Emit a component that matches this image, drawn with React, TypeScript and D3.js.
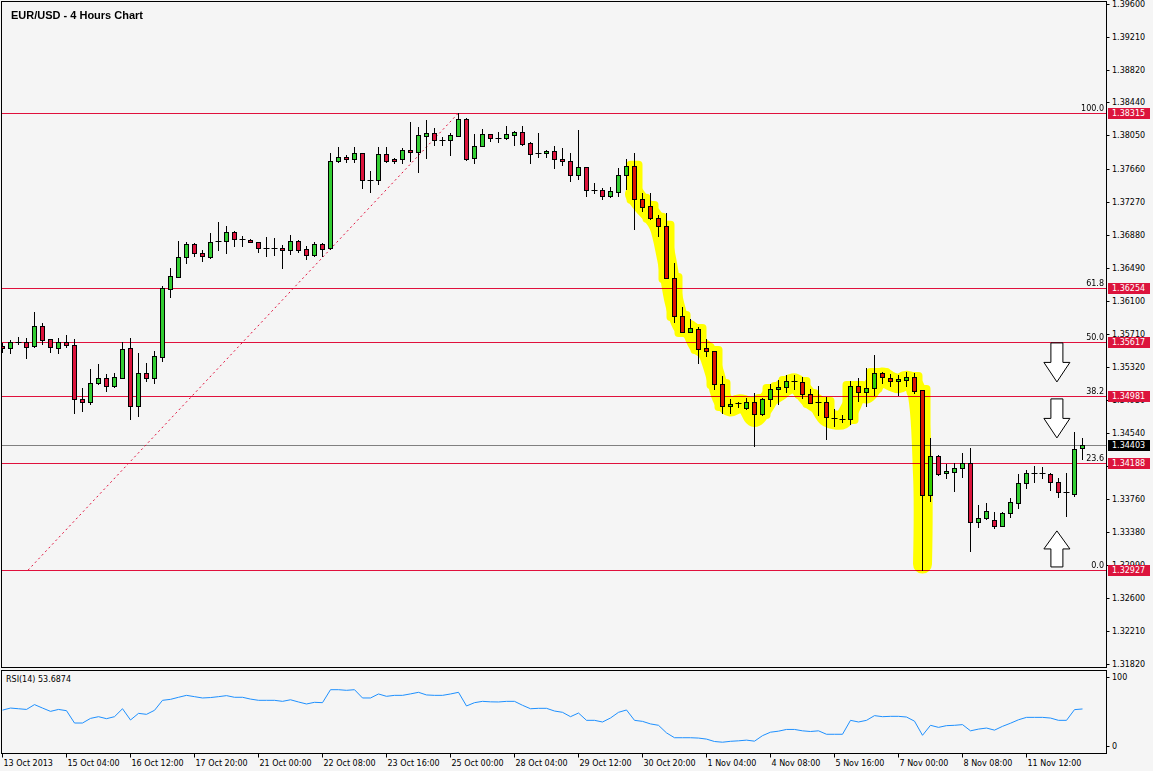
import * as d3 from "d3";

// ---- data ----
// [open, high, low, close], one entry per 4h bar, 13 Oct 2013 -> 11 Nov 2013
const candles: [number, number, number, number][] = [
  [1.3557, 1.35605, 1.35499, 1.35546],
  [1.35546, 1.3564, 1.35487, 1.35617],
  [1.35617, 1.35676, 1.35593, 1.35617],
  [1.35617, 1.35664, 1.35428, 1.35558],
  [1.3557, 1.35971, 1.35558, 1.35806],
  [1.35806, 1.35841, 1.35593, 1.3564],
  [1.35652, 1.35652, 1.35499, 1.35558],
  [1.35546, 1.35664, 1.35487, 1.35617],
  [1.35617, 1.35699, 1.35558, 1.35581],
  [1.35581, 1.35652, 1.3478, 1.34945],
  [1.34945, 1.35075, 1.34803, 1.34909],
  [1.34909, 1.35299, 1.34886, 1.35133],
  [1.35133, 1.35357, 1.35122, 1.35192],
  [1.35192, 1.3524, 1.35039, 1.35098],
  [1.35098, 1.35251, 1.35086, 1.35204],
  [1.35192, 1.35617, 1.35192, 1.35534],
  [1.35546, 1.35664, 1.34709, 1.34862],
  [1.34862, 1.35487, 1.34744, 1.35251],
  [1.35251, 1.35369, 1.35157, 1.35192],
  [1.35192, 1.35511, 1.35133, 1.35452],
  [1.3544, 1.36277, 1.35393, 1.36254],
  [1.36242, 1.36489, 1.36147, 1.36395],
  [1.36383, 1.36808, 1.36383, 1.36619],
  [1.36619, 1.36796, 1.36548, 1.36772],
  [1.36772, 1.36784, 1.36631, 1.36666],
  [1.36666, 1.36702, 1.36572, 1.36631],
  [1.36619, 1.36902, 1.36607, 1.36796],
  [1.36808, 1.37032, 1.36702, 1.36808],
  [1.36808, 1.36985, 1.36666, 1.36914],
  [1.36914, 1.36926, 1.36749, 1.36831],
  [1.36831, 1.36867, 1.36749, 1.36831],
  [1.36819, 1.36831, 1.36796, 1.36796],
  [1.36796, 1.36796, 1.36678, 1.36725],
  [1.36725, 1.36855, 1.36631, 1.36725],
  [1.36725, 1.36843, 1.36643, 1.36725],
  [1.36725, 1.3676, 1.36489, 1.36702],
  [1.36702, 1.36878, 1.36654, 1.36808],
  [1.36808, 1.36819, 1.36678, 1.36702],
  [1.36713, 1.36749, 1.36595, 1.36643],
  [1.36643, 1.36796, 1.36631, 1.36772],
  [1.36772, 1.36784, 1.36631, 1.36713],
  [1.36725, 1.37845, 1.36713, 1.37751],
  [1.37751, 1.37916, 1.37739, 1.37798],
  [1.37798, 1.37822, 1.37739, 1.37774],
  [1.37774, 1.37916, 1.37739, 1.37845],
  [1.37845, 1.37845, 1.37433, 1.37527],
  [1.37527, 1.37633, 1.37385, 1.37527],
  [1.37527, 1.37916, 1.3748, 1.37833],
  [1.37833, 1.37916, 1.37739, 1.37751],
  [1.37774, 1.37786, 1.37727, 1.37751],
  [1.37774, 1.37904, 1.37727, 1.37881],
  [1.37881, 1.38211, 1.37751, 1.37857],
  [1.37857, 1.38152, 1.37621, 1.38057],
  [1.38046, 1.38234, 1.37786, 1.38081],
  [1.38081, 1.3814, 1.37939, 1.37998],
  [1.37998, 1.38034, 1.37939, 1.37998],
  [1.37998, 1.38081, 1.37822, 1.38057],
  [1.38046, 1.38315, 1.38046, 1.38246],
  [1.38246, 1.38258, 1.37763, 1.37774],
  [1.37786, 1.38069, 1.37727, 1.37928],
  [1.37928, 1.38128, 1.37928, 1.38069],
  [1.38069, 1.38069, 1.37987, 1.38022],
  [1.38022, 1.38093, 1.37975, 1.38022],
  [1.38022, 1.38164, 1.3801, 1.38069],
  [1.38057, 1.38105, 1.37939, 1.38093],
  [1.38093, 1.38164, 1.37939, 1.37951],
  [1.37963, 1.37975, 1.37727, 1.37833],
  [1.37845, 1.38081, 1.37798, 1.37845],
  [1.37845, 1.37881, 1.37798, 1.37869],
  [1.37869, 1.37928, 1.37668, 1.37774],
  [1.37774, 1.37904, 1.37704, 1.37751],
  [1.37751, 1.37845, 1.37515, 1.37586],
  [1.37586, 1.38116, 1.37539, 1.3768],
  [1.3768, 1.3768, 1.37338, 1.37409],
  [1.37409, 1.37491, 1.37374, 1.37409],
  [1.37409, 1.37433, 1.37303, 1.37338],
  [1.37338, 1.37444, 1.37326, 1.37397],
  [1.37385, 1.37668, 1.37338, 1.37586],
  [1.37586, 1.37774, 1.37421, 1.37692],
  [1.37692, 1.37845, 1.36949, 1.37303],
  [1.37303, 1.37374, 1.37161, 1.37209],
  [1.3722, 1.37374, 1.37067, 1.37079],
  [1.37079, 1.37114, 1.36867, 1.36985],
  [1.36985, 1.37138, 1.36371, 1.36371],
  [1.36371, 1.36548, 1.35853, 1.35923],
  [1.35923, 1.3603, 1.35735, 1.35735],
  [1.35735, 1.35888, 1.35735, 1.35782],
  [1.3577, 1.35794, 1.35369, 1.35534],
  [1.35546, 1.35652, 1.35452, 1.35511],
  [1.35511, 1.35511, 1.35063, 1.35122],
  [1.35122, 1.35216, 1.3478, 1.34862],
  [1.34862, 1.34945, 1.3478, 1.34886],
  [1.34898, 1.34909, 1.34851, 1.34898],
  [1.34839, 1.34957, 1.34827, 1.34909],
  [1.34909, 1.35016, 1.34391, 1.34768],
  [1.34768, 1.34957, 1.34756, 1.34945],
  [1.34945, 1.35122, 1.34862, 1.35063],
  [1.35063, 1.35169, 1.34886, 1.35086],
  [1.35086, 1.35228, 1.35027, 1.35157],
  [1.35157, 1.35228, 1.35063, 1.35157],
  [1.35145, 1.35204, 1.34957, 1.35004],
  [1.35004, 1.35063, 1.34898, 1.34898],
  [1.34909, 1.35098, 1.34756, 1.34909],
  [1.34909, 1.34968, 1.34473, 1.34733],
  [1.34721, 1.34827, 1.34627, 1.34721],
  [1.34709, 1.34756, 1.34674, 1.34709],
  [1.34709, 1.35157, 1.3465, 1.35098],
  [1.35098, 1.35192, 1.34921, 1.35027],
  [1.35027, 1.3531, 1.34862, 1.35075],
  [1.35075, 1.35464, 1.34992, 1.35251],
  [1.35251, 1.35263, 1.35133, 1.35204],
  [1.35192, 1.3524, 1.35098, 1.35157],
  [1.35157, 1.35228, 1.34992, 1.35181],
  [1.35169, 1.35263, 1.35098, 1.35204],
  [1.35204, 1.35251, 1.35016, 1.35039],
  [1.35051, 1.35051, 1.32927, 1.33813],
  [1.33813, 1.34485, 1.33742, 1.34273],
  [1.34273, 1.34285, 1.34049, 1.34061],
  [1.34072, 1.34178, 1.34013, 1.34096],
  [1.34084, 1.3419, 1.3386, 1.34131],
  [1.34131, 1.34308, 1.34025, 1.3419],
  [1.3419, 1.34367, 1.33153, 1.33495],
  [1.33495, 1.33695, 1.33436, 1.33542],
  [1.33542, 1.33719, 1.3353, 1.33624],
  [1.33518, 1.33613, 1.33424, 1.33448],
  [1.33448, 1.33613, 1.33448, 1.33601],
  [1.33601, 1.33778, 1.33554, 1.3373],
  [1.33719, 1.34061, 1.3366, 1.33954],
  [1.33954, 1.34108, 1.33896, 1.34072],
  [1.34072, 1.34155, 1.33966, 1.34072],
  [1.34072, 1.34143, 1.34013, 1.34072],
  [1.34061, 1.34072, 1.33872, 1.33966],
  [1.33966, 1.34013, 1.33789, 1.33848],
  [1.33848, 1.34072, 1.33565, 1.33848],
  [1.33825, 1.34556, 1.33801, 1.34355],
  [1.34367, 1.34485, 1.34237, 1.34403],
];

const rsi14 = [
  52, 55, 54, 53, 60, 55, 50.2, 53, 51.2, 33.3, 33.3, 40, 42.5, 39.6, 42.5, 54, 37.7, 47.3, 45.9, 51.7,
  66.2, 67.6, 70.6, 73.4, 71.5, 69.6, 70.2, 71.5, 73, 70.6, 70.6, 68, 66.2, 66.2, 66.2, 64.7, 67, 63.8, 60.9, 63.3,
  62.8, 81.6, 81.6, 80.7, 81.6, 69.6, 69.6, 75.4, 72, 73.4, 73.4, 75.5, 77.8, 74, 73.4, 73.4, 75.4, 77.8, 58, 62.8,
  64.7, 64, 63.8, 64.7, 64.7, 59, 54, 54.6, 54.6, 50.7, 48.8, 42.5, 47.8, 37.2, 37.2, 34.8, 40.6, 48.8, 52.2, 37.2,
  35.7, 32, 30, 19, 12, 12, 12, 11.5, 10, 6.5, 5.5, 6.8, 7.5, 8.5, 7, 15, 20, 21.5, 24, 24,
  22, 21, 22, 17, 17, 17, 37.2, 34.8, 37.2, 44, 42.5, 43, 43, 42, 36, 15.5, 30, 27, 29.5, 30,
  31, 22, 24.5, 26, 23, 28.5, 33, 38, 41.5, 41.5, 41.5, 40.5, 37.2, 37.2, 52.7, 53.6874,
];

const priceTicks = [
  "1.39600", "1.39210", "1.38820", "1.38440", "1.38050", "1.37660", "1.37270",
  "1.36880", "1.36490", "1.36100", "1.35710", "1.35320", "1.34930", "1.34540",
  "1.34150", "1.33760", "1.33380", "1.32990", "1.32600", "1.32210", "1.31820",
];

// one label every 8 bars
const timeLabels = [
  "13 Oct 2013", "15 Oct 04:00", "16 Oct 12:00", "17 Oct 20:00", "21 Oct 00:00",
  "22 Oct 08:00", "23 Oct 16:00", "25 Oct 00:00", "28 Oct 04:00", "29 Oct 12:00",
  "30 Oct 20:00", "1 Nov 04:00", "4 Nov 08:00", "5 Nov 16:00", "7 Nov 00:00",
  "8 Nov 08:00", "11 Nov 12:00",
];

const fibLevels = [
  { pct: "100.0", price: 1.38315 },
  { pct: "61.8", price: 1.36254 },
  { pct: "50.0", price: 1.35617 },
  { pct: "38.2", price: 1.34981 },
  { pct: "23.6", price: 1.34188 },
  { pct: "0.0", price: 1.32927 },
];
const fibAnchors = [
  { bar: 3.2, price: 1.32927 },
  { bar: 57, price: 1.38315 },
];
const lastPrice = 1.34403;
const rsiLast = "53.6874";
const highlightBars = [79, 115]; // yellow marker stroke
const arrows = [
  { bar: 131.8, from: 1.35605, to: 1.35145 },
  { bar: 131.8, from: 1.34945, to: 1.34485 },
  { bar: 131.8, from: 1.32964, to: 1.33389 },
];

const FONT = "'DejaVu Sans', Tahoma, sans-serif";
const UP = "#32cd32";
const DOWN = "#dc143c";
const LINE_RED = "#e0103c";
const BG = "#f5f5f5";

export default function App() {
  const W = 1153;
  const H = 771;
  const plotR = 1106.5; // right axis line
  const mainB = 667.5;
  const rsiT = 670.5;
  const rsiB = 753.5;

  const x = d3
    .scaleLinear()
    .domain([0, candles.length - 1])
    .range([2.5, 2.5 + 8 * (candles.length - 1)]);
  const y = d3.scaleLinear().domain([1.3182, 1.396]).range([664, 4]);
  const yR = d3.scaleLinear().domain([0, 100]).range([746, 677]);
  const snap = (v: number) => Math.round(v) + 0.5;

  const rsiPath = d3
    .line<number>()
    .x((_, i) => x(i))
    .y((d) => yR(d))(rsi14);

  // highlighter stroke: through each bar, leaning toward the lower wick
  const [h0, h1] = highlightBars;
  const hiIdx = d3.range(h0, h1 + 1);
  const hiPts: [number, number][] = hiIdx.map((i) => {
    const [o, , l, c] = candles[i];
    return [x(i), y(((o + c) / 2) * 0.75 + l * 0.25)];
  });
  hiPts.push([x(h1), y(candles[h1][2]) - 6]);
  const hiPath = d3.line().curve(d3.curveCatmullRom)(hiPts);

  const fibPath = d3.line()(fibAnchors.map((a) => [x(a.bar), y(a.price)] as [number, number]));

  const arrowPath = (a: { bar: number; from: number; to: number }) => {
    const cx = x(a.bar);
    const y0 = y(a.from);
    const y1 = y(a.to);
    const dir = Math.sign(y1 - y0);
    const len = Math.abs(y1 - y0);
    const yb = y0 + dir * len * 0.5;
    return `M${cx - 6},${y0}L${cx + 6},${y0}L${cx + 6},${yb}L${cx + 13},${yb}L${cx},${y1}L${cx - 13},${yb}L${cx - 6},${yb}Z`;
  };

  return (
    <svg
      width={W}
      height={H}
      style={{ position: "absolute", left: 0, top: 0, display: "block" }}
      fontFamily={FONT}
    >
      <defs>
        <clipPath id="plot">
          <rect x={2} y={2} width={plotR - 2.5} height={mainB - 2.5} />
        </clipPath>
        <clipPath id="rsi">
          <rect x={2} y={rsiT + 0.5} width={plotR - 2.5} height={rsiB - rsiT - 1} />
        </clipPath>
      </defs>
      <rect width={W} height={H} fill={BG} />

      {/* ---- main panel ---- */}
      <g clipPath="url(#plot)">
        {fibLevels.map((f) => (
          <line
            key={f.pct}
            x1={0}
            x2={plotR}
            y1={snap(y(f.price))}
            y2={snap(y(f.price))}
            stroke={LINE_RED}
          />
        ))}
        <line x1={0} x2={plotR} y1={snap(y(lastPrice))} y2={snap(y(lastPrice))} stroke="#808080" />
        <path d={fibPath ?? ""} stroke={LINE_RED} strokeDasharray="2,3" fill="none" />

        {candles.map(([o, h, l, c], i) => {
          const cx = x(i);
          const wick = (
            <line x1={cx} x2={cx} y1={snap(y(h)) - 0.5} y2={snap(y(l)) + 0.5} stroke="#000" />
          );
          if (Math.abs(o - c) < 0.00004) {
            return (
              <g key={i}>
                {wick}
                <line x1={cx - 3} x2={cx + 3} y1={snap(y(c))} y2={snap(y(c))} stroke="#000" />
              </g>
            );
          }
          const top = snap(y(Math.max(o, c)));
          const bot = Math.max(snap(y(Math.min(o, c))), top + 2);
          return (
            <g key={i}>
              {wick}
              <rect
                x={cx - 2}
                y={top}
                width={4}
                height={bot - top}
                fill={c > o ? UP : DOWN}
                stroke="#000"
              />
            </g>
          );
        })}

        <g style={{ mixBlendMode: "multiply" }}>
          <path
            d={hiPath ?? ""}
            stroke="#ffff00"
            strokeWidth={19}
            strokeLinejoin="round"
            strokeLinecap="round"
            fill="none"
          />
          {hiIdx.map((i) => {
            const [o, , , c] = candles[i];
            const t = y(Math.max(o, c)) - 5;
            const b = y(Math.min(o, c)) + 5;
            return <rect key={i} x={x(i) - 8} y={t} width={16} height={b - t} rx={4} fill="#ffff00" />;
          })}
        </g>

        {arrows.map((a, k) => (
          <path key={k} d={arrowPath(a)} fill="#ffffff" stroke="#000" />
        ))}

        {fibLevels.map((f) => (
          <text
            key={f.pct}
            x={plotR - 2.5}
            y={Math.round(y(f.price)) - 2}
            textAnchor="end"
            fontSize={8}
            fill="#000"
          >
            {f.pct}
          </text>
        ))}

        <text x={11} y={19} fontFamily="'Liberation Sans', Arial, sans-serif" fontWeight="bold" fontSize={11} fill="#000">
          EUR/USD - 4 Hours Chart
        </text>
      </g>
      <rect x={1.5} y={1.5} width={plotR - 1.5} height={mainB - 1.5} fill="none" stroke="#000" />

      {/* price axis */}
      {priceTicks.map((t) => {
        const ty = snap(y(+t));
        return (
          <g key={t}>
            <line x1={plotR} x2={plotR + 3} y1={ty} y2={ty} stroke="#000" />
            <text x={1112} y={ty} dy="0.35em" fontSize={8} fill="#000">
              {t}
            </text>
          </g>
        );
      })}
      {fibLevels
        .map((f) => ({ v: f.price, fill: DOWN }))
        .concat([{ v: lastPrice, fill: "#000" }])
        .map((tag) => {
          const ty = Math.round(y(tag.v));
          return (
            <g key={tag.v}>
              <rect x={1108} y={ty - 5} width={42} height={11} fill={tag.fill} />
              <text x={1112} y={ty + 0.5} dy="0.35em" fontSize={8} fill="#fff">
                {tag.v.toFixed(5)}
              </text>
            </g>
          );
        })}

      {/* ---- RSI panel ---- */}
      <g clipPath="url(#rsi)">
        <path d={rsiPath ?? ""} stroke="#1e90ff" fill="none" strokeWidth={1} />
        <text x={6} y={682} fontSize={8} fill="#000">
          RSI(14) {rsiLast}
        </text>
      </g>
      <rect x={1.5} y={rsiT} width={plotR - 1.5} height={rsiB - rsiT} fill="none" stroke="#000" />
      {[100, 0].map((v) => (
        <g key={v}>
          <line x1={plotR} x2={plotR + 3} y1={snap(yR(v))} y2={snap(yR(v))} stroke="#000" />
          <text x={1112} y={snap(yR(v))} dy="0.35em" fontSize={8} fill="#000">
            {v}
          </text>
        </g>
      ))}

      {/* time axis */}
      {timeLabels.map((t, k) => {
        const tx = x(k * 8);
        return (
          <g key={t}>
            <line x1={tx} x2={tx} y1={rsiB} y2={rsiB + 4} stroke="#000" />
            <text x={tx + 1} y={766} fontSize={8} fill="#000">
              {t}
            </text>
          </g>
        );
      })}
    </svg>
  );
}
